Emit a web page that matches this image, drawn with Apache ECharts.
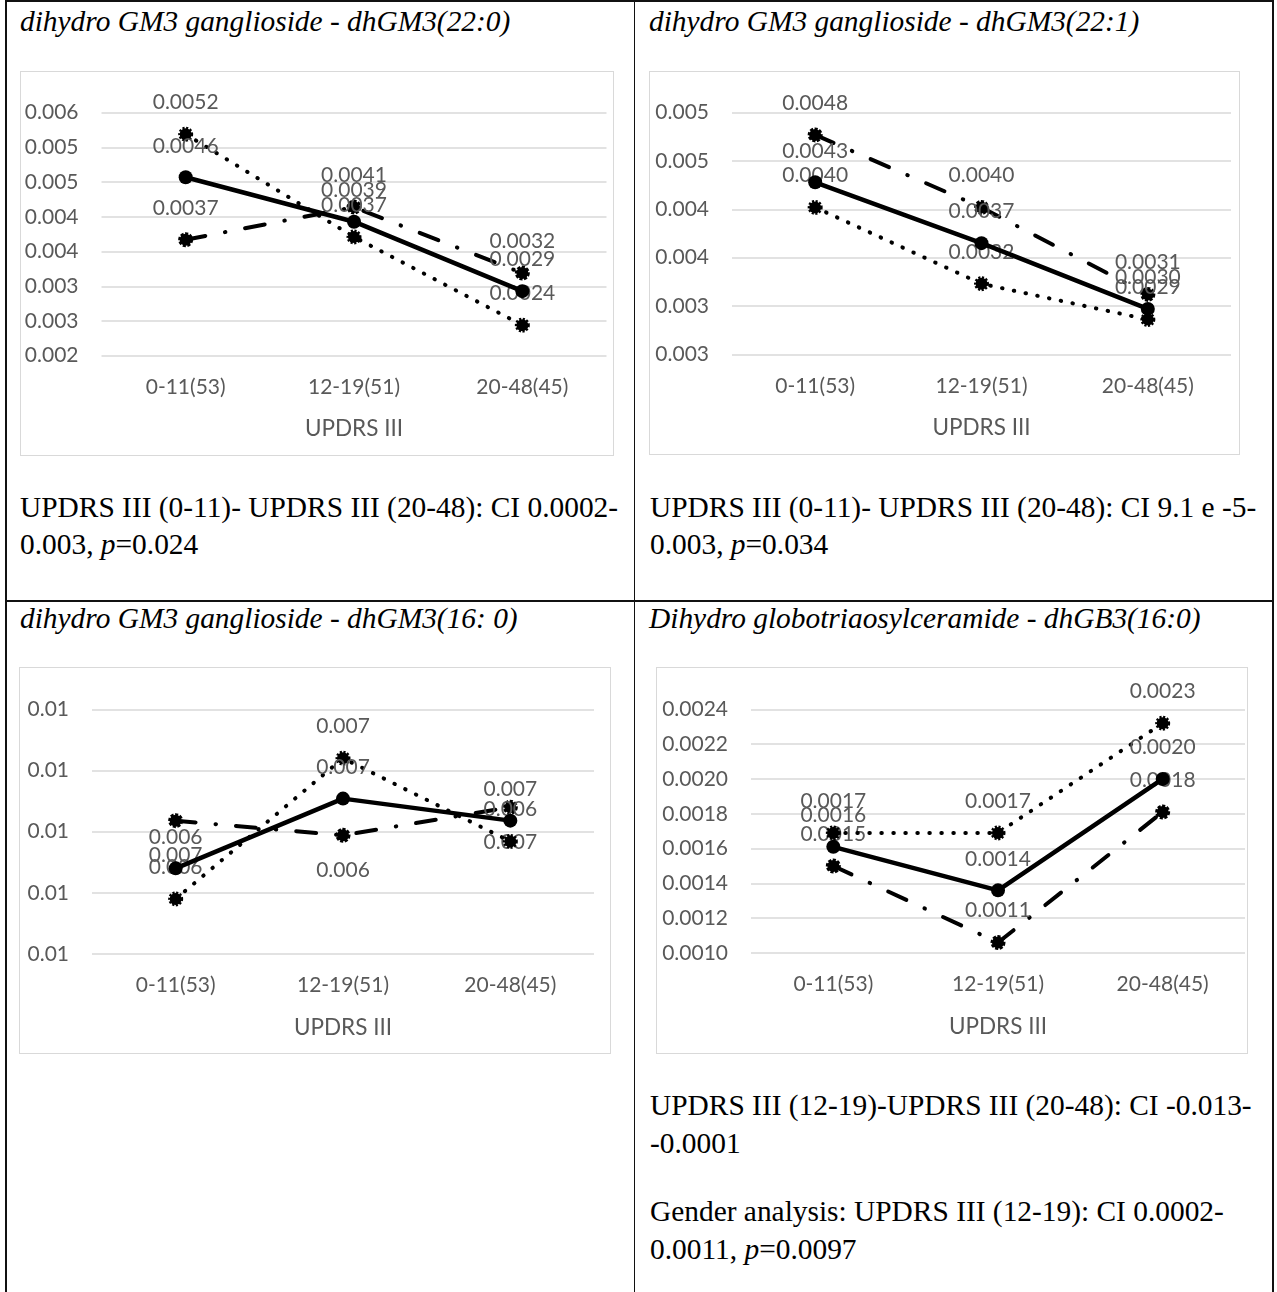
<!DOCTYPE html>
<html>
<head>
<meta charset="utf-8">
<title>UPDRS III lipid panels</title>
<script src="https://cdn.jsdelivr.net/npm/echarts@6/dist/echarts.min.js"></script>
<style>
  html, body { margin: 0; padding: 0; background: #fff; }
  #page { position: relative; width: 1277px; height: 1292px; overflow: hidden; background: #fff; }
  .rule { position: absolute; background: #111; }
  .txt { position: absolute; font-family: "Liberation Serif", "Times New Roman", serif; font-size: 29.4px; line-height: 29px; color: #000; white-space: nowrap; }
  .ttl { font-style: italic; }
  .box { position: absolute; border: 1.5px solid #d9d9d9; box-sizing: border-box; background: #fff; }
  .box > div { position: absolute; left: 0; top: 0; right: 0; bottom: 0; }
</style>
</head>
<body>
<div id="page">
  <!-- table rules -->
  <div class="rule" style="left:5px; top:0; width:1268px; height:1.5px;"></div>
  <div class="rule" style="left:5px; top:0; width:1.5px; height:1292px;"></div>
  <div class="rule" style="left:1272px; top:0; width:1.5px; height:1292px;"></div>
  <div class="rule" style="left:633.5px; top:0; width:1.5px; height:1292px;"></div>
  <div class="rule" style="left:5px; top:600px; width:1268px; height:1.5px;"></div>

  <!-- cell headings -->
  <div class="txt ttl" style="left:20px; top:7px;">dihydro GM3 ganglioside - dhGM3(22:0)</div>
  <div class="txt ttl" style="left:649px; top:7px;">dihydro GM3 ganglioside - dhGM3(22:1)</div>
  <div class="txt ttl" style="left:20px; top:604px;">dihydro GM3 ganglioside - dhGM3(16: 0)</div>
  <div class="txt ttl" style="left:649px; top:604px;">Dihydro globotriaosylceramide - dhGB3(16:0)</div>

  <!-- statistics notes -->
  <div class="txt" style="left:20px; top:493px;">UPDRS III (0-11)- UPDRS III (20-48): CI 0.0002-</div>
  <div class="txt" style="left:20px; top:530px;">0.003, <i>p</i>=0.024</div>
  <div class="txt" style="left:650px; top:493px;">UPDRS III (0-11)- UPDRS III (20-48): CI 9.1 e -5-</div>
  <div class="txt" style="left:650px; top:530px;">0.003, <i>p</i>=0.034</div>
  <div class="txt" style="left:650px; top:1091px;">UPDRS III (12-19)-UPDRS III (20-48): CI -0.013-</div>
  <div class="txt" style="left:650px; top:1129px;">-0.0001</div>
  <div class="txt" style="left:650px; top:1197px;">Gender analysis: UPDRS III (12-19): CI 0.0002-</div>
  <div class="txt" style="left:650px; top:1235px;">0.0011, <i>p</i>=0.0097</div>

  <!-- chart frames -->
  <div class="box" style="left:20px; top:71px; width:594px; height:385px;"><div id="c1"></div></div>
  <div class="box" style="left:649px; top:71px; width:591px; height:384px;"><div id="c2"></div></div>
  <div class="box" style="left:19px; top:667px; width:592px; height:387px;"><div id="c3"></div></div>
  <div class="box" style="left:656px; top:667px; width:592px; height:387px;"><div id="c4"></div></div>
</div>

<script>
// UPDRS III score groups (n per group)
const CATEGORIES = ['0-11(53)', '12-19(51)', '20-48(45)'];
const X_TITLE = 'UPDRS III';

// dhGM3(22:0)
const GM3_220_SOLID   = [0.00457, 0.00393, 0.00293];
const GM3_220_DOTTED  = [0.00519, 0.00371, 0.00244];
const GM3_220_DASHDOT = [0.00367, 0.00414, 0.00319];
const GM3_220_AXIS    = [0.0020, 0.0055, 0.0005];   // min, max, step

// dhGM3(22:1)
const GM3_221_SOLID   = [0.00428, 0.00365, 0.00297];
const GM3_221_DOTTED  = [0.00402, 0.00323, 0.00286];
const GM3_221_DASHDOT = [0.00477, 0.00402, 0.00312];
const GM3_221_AXIS    = [0.0025, 0.0050, 0.0005];

// dhGM3(16:0)
const GM3_160_SOLID   = [0.00620, 0.00677, 0.00659];
const GM3_160_DOTTED  = [0.00595, 0.00710, 0.00642];
const GM3_160_DASHDOT = [0.00659, 0.00647, 0.00670];
const GM3_160_AXIS    = [0.0055, 0.0075, 0.0005];

// dhGB3(16:0)
const GB3_160_SOLID   = [0.00161, 0.00136, 0.00200];
const GB3_160_DOTTED  = [0.00169, 0.00169, 0.00232];
const GB3_160_DASHDOT = [0.00150, 0.00106, 0.00181];
const GB3_160_AXIS    = [0.0010, 0.0024, 0.0002];

const GREY = '#595959';
const FONT = 'Lato';

// round half up to d decimals (Excel-style number format)
function fixed(v, d) {
  const f = Math.pow(10, d);
  return (Math.round(v * f + 1e-6) / f).toFixed(d);
}

function series(name, data, kind, labelPos, d) {
  const s = {
    type: 'line',
    name: name,
    data: data,
    symbol: 'circle',
    silent: true,
    emphasis: { disabled: true },
    label: {
      show: true,
      position: labelPos,
      distance: labelPos === 'bottom' ? 17 : 14,
      color: GREY,
      fontFamily: FONT,
      fontSize: 21,
      formatter: p => fixed(p.value, d)
    }
  };
  if (kind === 'solid') {
    s.z = 4;
    s.symbolSize = 14;
    s.lineStyle = { color: '#000', width: 4.5 };
    s.itemStyle = { color: '#000' };
  } else if (kind === 'dotted') {
    s.z = 3;
    s.symbolSize = 12;
    s.lineStyle = { color: '#000', width: 4, type: [0.5, 11.5], cap: 'round' };
    s.itemStyle = { color: '#000', borderColor: '#000', borderWidth: 3, borderType: [2, 1.5] };
  } else {
    s.z = 2;
    s.symbolSize = 12;
    s.lineStyle = { color: '#000', width: 4, type: [20, 20, 0.5, 20], cap: 'round' };
    s.itemStyle = { color: '#000', borderColor: '#000', borderWidth: 3, borderType: [3, 1.5] };
  }
  return s;
}

function draw(id, grid, axis, axisDec, labelDec, solid, dotted, dashdot, dashdotPos) {
  const chart = echarts.init(document.getElementById(id), null, { renderer: 'canvas' });
  chart.setOption({
    animation: false,
    grid: grid,
    xAxis: {
      type: 'category',
      data: CATEGORIES,
      boundaryGap: true,
      axisLine: { show: false },
      axisTick: { show: false },
      axisLabel: { color: GREY, fontFamily: FONT, fontSize: 21, margin: 21 },
      name: X_TITLE,
      nameLocation: 'middle',
      nameGap: 62,
      nameTextStyle: { color: GREY, fontFamily: FONT, fontSize: 22.5 }
    },
    yAxis: {
      type: 'value',
      min: axis[0],
      max: axis[1],
      interval: axis[2],
      axisLine: { show: false },
      axisTick: { show: false },
      splitLine: { lineStyle: { color: '#d9d9d9', width: 1.5 } },
      axisLabel: {
        color: GREY, fontFamily: FONT, fontSize: 21, margin: 23,
        formatter: v => fixed(v, axisDec)
      }
    },
    series: [
      series('groupDashDot', dashdot, 'dashdot', dashdotPos, labelDec),
      series('groupDotted', dotted, 'dotted', 'top', labelDec),
      series('all', solid, 'solid', 'top', labelDec)
    ]
  });
}

draw('c1', { left: 80.5, right: 6.5, top: 40.7, bottom: 99.3 }, GM3_220_AXIS, 3, 4,
     GM3_220_SOLID, GM3_220_DOTTED, GM3_220_DASHDOT, 'top');
draw('c2', { left: 82, right: 8, top: 40.7, bottom: 99.7 }, GM3_221_AXIS, 3, 4,
     GM3_221_SOLID, GM3_221_DOTTED, GM3_221_DASHDOT, 'top');
draw('c3', { left: 72, right: 16, top: 41.3, bottom: 99 }, GM3_160_AXIS, 2, 3,
     GM3_160_SOLID, GM3_160_DOTTED, GM3_160_DASHDOT, 'bottom');
draw('c4', { left: 94, right: 2, top: 41.3, bottom: 100 }, GB3_160_AXIS, 4, 4,
     GB3_160_SOLID, GB3_160_DOTTED, GB3_160_DASHDOT, 'top');
</script>
</body>
</html>
